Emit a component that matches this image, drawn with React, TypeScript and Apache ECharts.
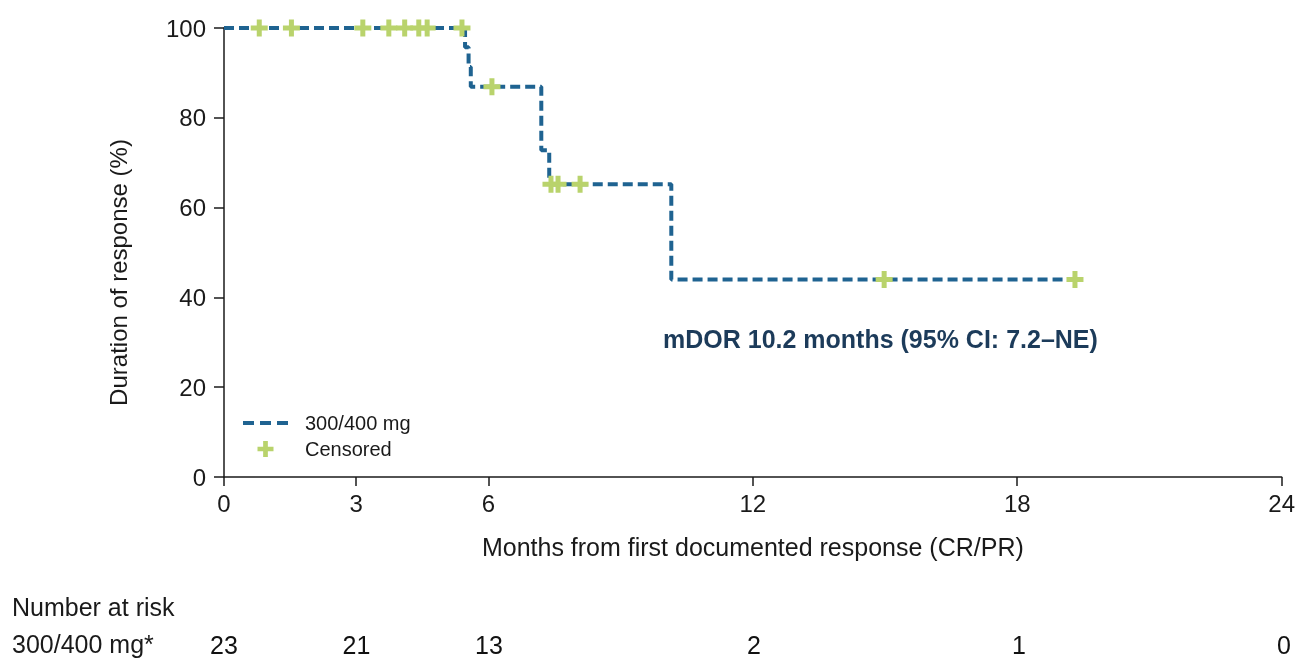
import React, { useEffect, useRef } from "react";
import * as echarts from "echarts";

// Kaplan–Meier steps: event time (months) and survival after the event (%)
const eventTimes = [5.47, 5.55, 5.6, 7.2, 7.38, 10.15];
const eventLevels = [95.7, 91.3, 86.9, 72.8, 65.2, 44.0];
const startLevel = 100;
const lastFollowUp = 19.31;

// Censored observations
const censorTimes = [0.8, 1.53, 3.15, 3.74, 4.1, 4.42, 4.61, 5.4, 6.08, 7.42, 7.58, 8.08, 14.98, 19.31];
const censorLevels = [100, 100, 100, 100, 100, 100, 100, 100, 86.9, 65.2, 65.2, 65.2, 44.0, 44.0];

// Axis ticks
const xTicks = [0, 3, 6, 12, 18, 24];
const yTicks = [0, 20, 40, 60, 80, 100];

// Number at risk
const riskTimes = [0, 3, 6, 12, 18, 24];
const riskCounts = [23, 21, 13, 2, 1, 0];

const LINE_COLOR = "#1f6391";
const CENSOR_COLOR = "#b9d36c";
const TEXT = "#1a1a1a";
const FONT = "Liberation Sans, Arial, sans-serif";
const PLUS = "path://M6,0h5v6h6v5h-6v6h-5v-6h-6v-5h6z";
const DASHES = "path://M0,0h11v4h-11z M17,0h11v4h-11z M34,0h11v4h-11z";

function buildSteps(): number[][] {
  const pts: number[][] = [[0, startLevel]];
  let prev = startLevel;
  for (let i = 0; i < eventTimes.length; i++) {
    pts.push([eventTimes[i], prev]);
    pts.push([eventTimes[i], eventLevels[i]]);
    prev = eventLevels[i];
  }
  pts.push([lastFollowUp, prev]);
  return pts;
}

export default function App() {
  const ref = useRef<HTMLDivElement>(null);
  useEffect(() => {
    if (!ref.current) return;
    const chart = echarts.init(ref.current, undefined, { renderer: "svg" });
    const steps = buildSteps();
    const censored = censorTimes.map((t, i) => [t, censorLevels[i]]);
    const risk = riskTimes.map((t, i) => [t, 0.5, riskCounts[i]]);
    chart.setOption({
      animation: false,
      textStyle: { fontFamily: FONT },
      grid: [
        { left: 224, right: 14, top: 28, bottom: 183, containLabel: false },
        { left: 224, right: 14, top: 630, height: 30, containLabel: false },
      ],
      xAxis: [
        {
          type: "value",
          gridIndex: 0,
          min: 0,
          max: 24,
          interval: 3,
          splitLine: { show: false },
          axisLine: { show: true, lineStyle: { color: TEXT, width: 1.5 } },
          axisTick: {
            show: true,
            length: 9,
            customValues: xTicks,
            lineStyle: { color: TEXT, width: 1.5 },
          },
          axisLabel: {
            customValues: xTicks,
            color: TEXT,
            fontSize: 24,
            fontFamily: FONT,
            margin: 14,
          },
          name: "Months from first documented response (CR/PR)",
          nameLocation: "middle",
          nameGap: 57,
          nameTextStyle: { color: TEXT, fontSize: 25, fontFamily: FONT },
        },
        {
          type: "value",
          gridIndex: 1,
          min: 0,
          max: 24,
          show: false,
        },
      ],
      yAxis: [
        {
          type: "value",
          gridIndex: 0,
          min: 0,
          max: 100,
          interval: 20,
          splitLine: { show: false },
          axisLine: { show: true, lineStyle: { color: TEXT, width: 1.5 } },
          axisTick: {
            show: true,
            length: 10,
            customValues: yTicks,
            lineStyle: { color: TEXT, width: 1.5 },
          },
          axisLabel: {
            color: TEXT,
            fontSize: 24,
            fontFamily: FONT,
            margin: 18,
          },
          name: "Duration of response (%)",
          nameLocation: "middle",
          nameGap: 94,
          nameTextStyle: {
            color: TEXT,
            fontSize: 24,
            fontFamily: FONT,
            padding: [0, 40, 0, 0],
          },
        },
        {
          type: "value",
          gridIndex: 1,
          min: 0,
          max: 1,
          show: false,
        },
      ],
      legend: {
        left: 238,
        top: 408,
        orient: "vertical",
        itemWidth: 45,
        itemHeight: 16,
        itemGap: 6,
        textStyle: {
          color: TEXT,
          fontSize: 20,
          fontFamily: FONT,
          padding: [0, 0, 0, 12],
        },
        data: [
          { name: "300/400 mg", icon: DASHES, itemStyle: { color: LINE_COLOR } },
          { name: "Censored", icon: PLUS, itemStyle: { color: CENSOR_COLOR } },
        ],
      },
      series: [
        {
          name: "300/400 mg",
          type: "line",
          xAxisIndex: 0,
          yAxisIndex: 0,
          data: steps,
          symbol: "none",
          showSymbol: false,
          color: LINE_COLOR,
          lineStyle: { color: LINE_COLOR, width: 4, type: [10, 5] },
          z: 2,
        },
        {
          name: "Censored",
          type: "scatter",
          xAxisIndex: 0,
          yAxisIndex: 0,
          data: censored,
          symbol: PLUS,
          symbolSize: 17,
          symbolKeepAspect: true,
          itemStyle: { color: CENSOR_COLOR, opacity: 1 },
          z: 3,
        },
        {
          name: "risk",
          type: "scatter",
          xAxisIndex: 1,
          yAxisIndex: 1,
          data: risk,
          symbol: "circle",
          symbolSize: 1,
          itemStyle: { color: "#ffffff", opacity: 1 },
          silent: true,
          label: {
            show: true,
            position: "inside",
            formatter: (p: any) => String(p.value[2]),
            color: "#111111",
            opacity: 1,
            fontSize: 25,
            fontFamily: FONT,
            textBorderWidth: 0,
          },
        },
      ],
      graphic: [
        {
          type: "text",
          left: 663,
          top: 326,
          style: {
            text: "mDOR 10.2 months (95% CI: 7.2–NE)",
            fill: "#1c3b5a",
            font: `bold 25px ${FONT}`,
          },
        },
        {
          type: "text",
          left: 12,
          top: 594,
          style: { text: "Number at risk", fill: TEXT, font: `25px ${FONT}` },
        },
        {
          type: "text",
          left: 12,
          top: 631,
          style: { text: "300/400 mg*", fill: TEXT, font: `25px ${FONT}` },
        },
      ],
    });
    return () => chart.dispose();
  }, []);
  return (
    <div
      ref={ref}
      style={{ position: "fixed", left: 0, top: 0, width: 1298, height: 660 }}
    />
  );
}
